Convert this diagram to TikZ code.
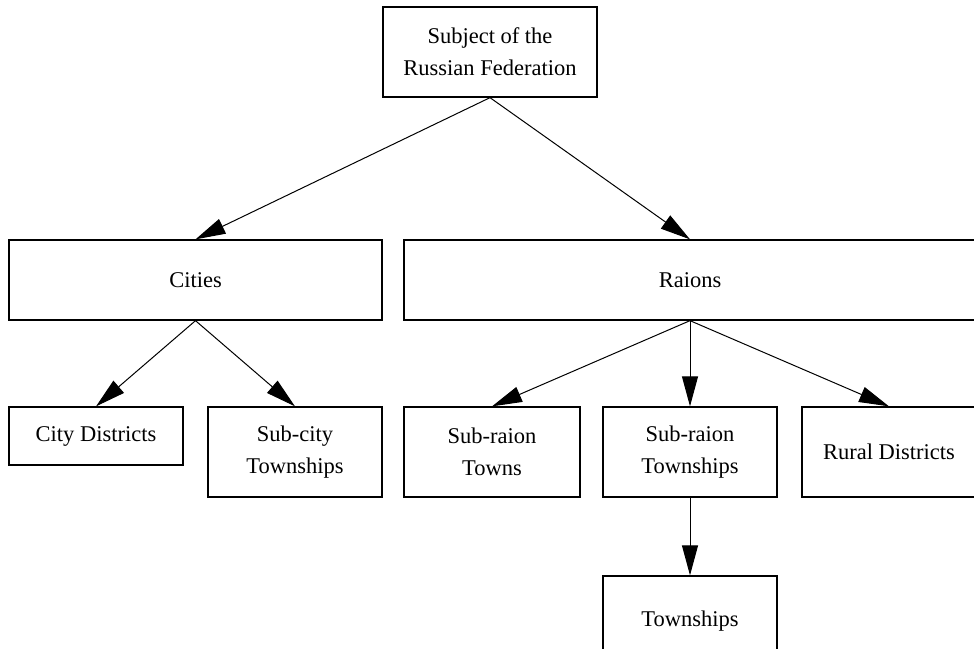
\documentclass[tikz,border=0pt]{standalone}
\usepackage{fontspec}
\setmainfont{Liberation Serif}
\usetikzlibrary{arrows.meta}
\begin{document}
\begin{tikzpicture}[x=1pt,y=-1pt,
  unit/.style={draw=black, line width=1.3pt, align=center, inner sep=0pt,
    minimum width=174pt, minimum height=90pt,
    font=\fontsize{22.5}{32}\selectfont},
  link/.style={line width=1pt, -{Triangle[length=30pt,width=16pt]}}]
\useasboundingbox (0,0) rectangle (974,648);
\clip (0,0) rectangle (974,648);

% top level
\node[unit, minimum width=214pt] (subject) at (490,52) {Subject of the\\Russian Federation};

% second level
\node[unit, minimum width=373pt, minimum height=80pt] (cities) at (195.5,280) {Cities};
\node[unit, minimum width=572pt, minimum height=80pt] (raions) at (690,280) {Raions};

% third level
\node[unit, minimum height=58pt] (citydist) at (96,436) {City Districts};
\node[unit] (subcity) at (295,452) {Sub-city\\Townships};
\node[unit, minimum width=176pt] (srtowns) at (492,452) {Sub-raion\\Towns};
\node[unit] (srtownships) at (690,452) {Sub-raion\\Townships};
\node[unit] (rural) at (889,452) {Rural Districts};

% fourth level
\node[unit] (townships) at (690,621) {Townships};

% connectors
\draw[link] (subject.south) -- (cities.north);
\draw[link] (subject.south) -- (raions.north);
\draw[link] (cities.south) -- (citydist.north);
\draw[link] (cities.south) -- (subcity.north);
\draw[link] (raions.south) -- (srtowns.north);
\draw[link] (raions.south) -- (srtownships.north);
\draw[link] (raions.south) -- (rural.north);
\draw[link] (srtownships.south) -- (townships.north);
\end{tikzpicture}
\end{document}
